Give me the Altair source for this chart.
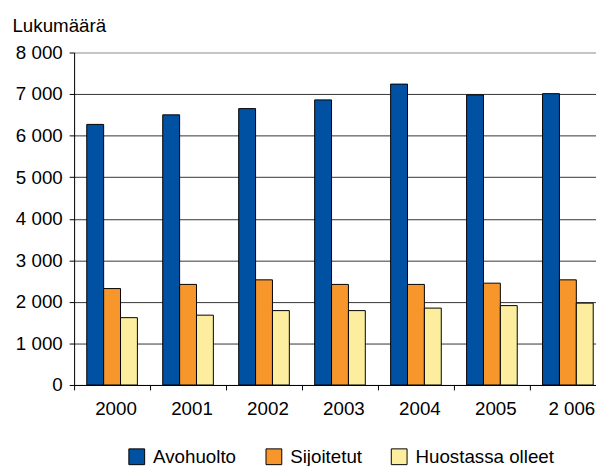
import altair as alt
import pandas as pd

years = ["2000", "2001", "2002", "2003", "2004", "2005", "2 006"]
series = ["Avohuolto", "Sijoitetut", "Huostassa olleet"]
avohuolto = [6270, 6500, 6650, 6860, 7240, 6980, 7010]
sijoitetut = [2320, 2420, 2530, 2420, 2420, 2450, 2530]
huostassa = [1620, 1680, 1790, 1790, 1850, 1910, 1970]
colors = ["#0051A2", "#F7962B", "#FCEE9E"]

rows = []
for name, vals in zip(series, [avohuolto, sijoitetut, huostassa]):
    for y, v in zip(years, vals):
        rows.append({"vuosi": y, "sarja": name, "arvo": v})
df = pd.DataFrame(rows)

FONT = "Liberation Sans"

chart = alt.Chart(df).mark_bar(stroke="black", strokeWidth=1).encode(
    x=alt.X("vuosi:N", sort=years,
            scale=alt.Scale(paddingInner=0, paddingOuter=0),
            axis=alt.Axis(title=None, labelAngle=0, tickBand="extent", domainColor="black",
                          tickColor="black", tickSize=5, labelPadding=10, labelFontSize=19,
                          labelOffset=3.5,
                          labelColor="black", labelFont=FONT, grid=False, domainWidth=1)),
    xOffset=alt.XOffset("sarja:N", sort=series,
                        scale=alt.Scale(paddingInner=0, paddingOuter=0.75)),
    y=alt.Y("arvo:Q",
            scale=alt.Scale(domain=[0, 8000], nice=False),
            axis=alt.Axis(title="Lukumäärä", titleAngle=0, titleX=-63, titleY=-21,
                          titleAlign="left", titleBaseline="alphabetic", titleFontSize=19,
                          titleFontWeight="normal", titleFont=FONT, titleColor="black",
                          values=[0, 1000, 2000, 3000, 4000, 5000, 6000, 7000, 8000],
                          labelExpr="replace(format(datum.value, ','), ',', ' ')",
                          labelFontSize=19, labelFont=FONT, labelColor="black",
                          labelPadding=7, tickSize=5, tickColor="black",
                          domainColor="black", grid=True,
                          gridColor=alt.condition("datum.value == 8000", alt.value("#999999"), alt.value("#333333")),
                          gridWidth=1)),
    color=alt.Color("sarja:N", sort=series,
                    scale=alt.Scale(domain=series, range=colors),
                    legend=alt.Legend(title=None, orient="none", direction="horizontal",
                                      legendX=54, legendY=400, symbolType="square",
                                      symbolSize=256, symbolStrokeColor="black",
                                      symbolStrokeWidth=1, symbolOpacity=1,
                                      labelFontSize=19, labelFont=FONT, labelColor="black",
                                      labelOffset=7, columnPadding=27, labelLimit=300)),
).properties(
    width=539, height=337,
    autosize=alt.AutoSizeParams(type="none"),
    padding={"left": 67, "top": 42, "right": -10, "bottom": 79},
).configure_view(stroke=None).configure(background="white")

chart.save("out.html", embed_options={"renderer": "svg", "actions": False})
